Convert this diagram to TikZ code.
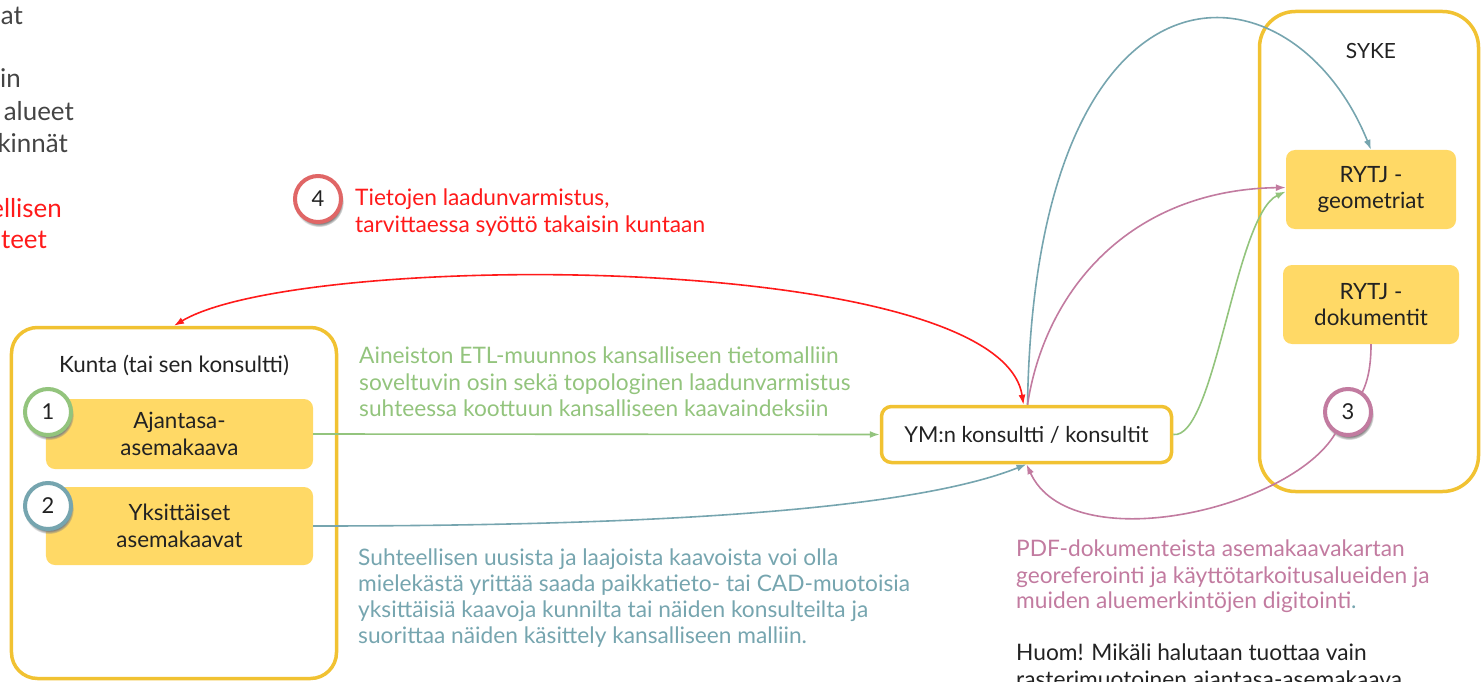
\documentclass[tikz,border=0pt]{standalone}
\usepackage{fontspec}
\setmainfont{Lato}
\usetikzlibrary{arrows.meta,shadows}
\definecolor{frameyellow}{HTML}{F1C232}
\definecolor{boxyellow}{HTML}{FFD966}
\definecolor{etlgreen}{HTML}{93C47D}
\definecolor{cadblue}{HTML}{76A5AF}
\definecolor{pdfpink}{HTML}{C27BA0}
\definecolor{qared}{HTML}{FF1A1A}
\definecolor{qacircle}{HTML}{E06666}
\definecolor{greytext}{HTML}{444444}
\definecolor{darktext}{HTML}{222222}
\tikzset{
  x=1bp, y=-1bp,
  container/.style={draw=frameyellow, line width=3.5bp, rounded corners=26bp, inner sep=0pt},
  ybox/.style={fill=boxyellow, rounded corners=9bp, inner sep=0pt, align=center,
    text=darktext, font=\fontsize{22.5}{26.5}\selectfont},
  numc/.style={circle, draw=#1, fill=white, line width=4bp, minimum size=46bp, inner sep=0pt,
    text=darktext, font=\fontsize{22}{22}\selectfont,
    circular drop shadow={shadow xshift=1bp, shadow yshift=-3bp, shadow scale=1.08}},
  note/.style={anchor=base west, inner sep=0pt, font=\fontsize{22.8}{27}\selectfont},
  sidetext/.style={anchor=base east, inner sep=0pt, font=\fontsize{26}{31}\selectfont},
  flow/.style={line width=1.6bp, -{Latex[length=10bp,width=7bp]}},
}
\begin{document}
\begin{tikzpicture}
\useasboundingbox (0,0) rectangle (1483,682);

% text continuing in from the left edge
\node[sidetext, text=greytext] (s1) at (23,25) {at};
\node[sidetext, text=greytext] (s2) at (21,88) {in};
\node[sidetext, text=greytext] (s3) at (74,121) {alueet};
\node[sidetext, text=greytext] (s4) at (68,152) {kinnät};
\node[sidetext, text=qared] (s5) at (62,217) {ellisen};
\node[sidetext, text=qared] (s6) at (47,248) {teet};

% municipality
\node[container, minimum width=325bp, minimum height=351bp] (kunta) at (174,503) {};
\node[inner sep=0pt, anchor=base, text=darktext, font=\fontsize{22.5}{27}\selectfont] (kuntalbl) at (174,372) {Kunta (tai sen konsultti)};
\node[ybox, minimum width=267bp, minimum height=70bp] (ajan) at (179.5,434) {Ajantasa-\\asemakaava};
\node[ybox, minimum width=267bp, minimum height=78bp] (yks) at (179.5,526) {Yksittäiset\\asemakaavat};

% ministry consultant
\node[draw=frameyellow, fill=white, line width=3.5bp, rounded corners=10bp,
  minimum width=290bp, minimum height=56bp, inner sep=0pt, text=darktext,
  font=\fontsize{22}{26}\selectfont] (ym) at (1026.5,434.5) {YM:n konsultti / konsultit};

% SYKE
\node[container, rounded corners=36bp, minimum width=219bp, minimum height=480bp] (syke) at (1369,251.5) {};
\node[inner sep=0pt, anchor=base, text=darktext, font=\fontsize{21}{25}\selectfont] (sykelbl) at (1371,59) {SYKE};
\node[ybox, minimum width=170bp, minimum height=79bp] (geo) at (1371,189.5) {RYTJ -\\geometriat};
\node[ybox, minimum width=176bp, minimum height=79bp] (dok) at (1371,304.5) {RYTJ -\\dokumentit};

% connectors
\draw[flow, draw=etlgreen] (ajan.east) -- (ym.west);
\draw[flow, draw=cadblue] (yks.east) .. controls (600,526) and (900,515) .. (ym.south);
\draw[line width=1.6bp, draw=qared, {Latex[length=10bp,width=7bp]}-{Latex[length=10bp,width=7bp]}]
  ([xshift=-3bp]ym.north) .. controls (1000,250) and (300,250) .. (kunta.north);
\draw[flow, draw=cadblue] ([xshift=1bp]ym.north) .. controls (1035,-60) and (1290,-50) .. (geo.north);
\draw[flow, draw=pdfpink] ([xshift=1bp]ym.north) .. controls (1045,290) and (1130,190) .. ([yshift=2bp]geo.west);
\draw[flow, draw=etlgreen] (ym.east) .. controls (1215,440) and (1235,215) .. ([yshift=-2bp]geo.west);
\draw[line width=1.6bp, draw=pdfpink] (dok.south) .. controls (1371,375) and (1365,395) .. (1348,412);
\node[numc=pdfpink] (c3) at (1348,412) {3};
\draw[flow, draw=pdfpink] (c3) .. controls (1290,510) and (1070,560) .. (ym.south);

% numbered markers
\node[numc=etlgreen] (c1) at (48,412) {1};
\node[numc=cadblue] (c2) at (48,506) {2};
\node[numc=qacircle] (c4) at (318,199) {4};

% annotations
\node[note, text=qared] (r1) at (355,205) {Tietojen laadunvarmistus,};
\node[note, text=qared] (r2) at (355,232) {tarvittaessa syöttö takaisin kuntaan};

\node[note, text=etlgreen] (g1) at (359,363) {Aineiston ETL-muunnos kansalliseen tietomalliin};
\node[note, text=etlgreen] (g2) at (359,390) {soveltuvin osin sekä topologinen laadunvarmistus};
\node[note, text=etlgreen] (g3) at (359,416) {suhteessa koottuun kansalliseen kaavaindeksiin};

\node[note, text=cadblue] (b1) at (358,565) {Suhteellisen uusista ja laajoista kaavoista voi olla};
\node[note, text=cadblue] (b2) at (358,591) {mielekästä yrittää saada paikkatieto- tai CAD-muotoisia};
\node[note, text=cadblue] (b3) at (358,617) {yksittäisiä kaavoja kunnilta tai näiden konsulteilta ja};
\node[note, text=cadblue] (b4) at (358,643) {suorittaa näiden käsittely kansalliseen malliin.};

\node[note, text=pdfpink] (p1) at (1016,556) {PDF-dokumenteista asemakaavakartan};
\node[note, text=pdfpink] (p2) at (1016,583) {georeferointi ja käyttötarkoitusalueiden ja};
\node[note, text=pdfpink] (p3) at (1016,608) {muiden aluemerkintöjen digitointi\textcolor{cadblue}{.}};

\node[note, text=darktext] (h1) at (1016,660) {Huom! Mikäli halutaan tuottaa vain};
\node[note, text=darktext] (h2) at (1016,687) {rasterimuotoinen ajantasa-asemakaava};
\end{tikzpicture}
\end{document}
